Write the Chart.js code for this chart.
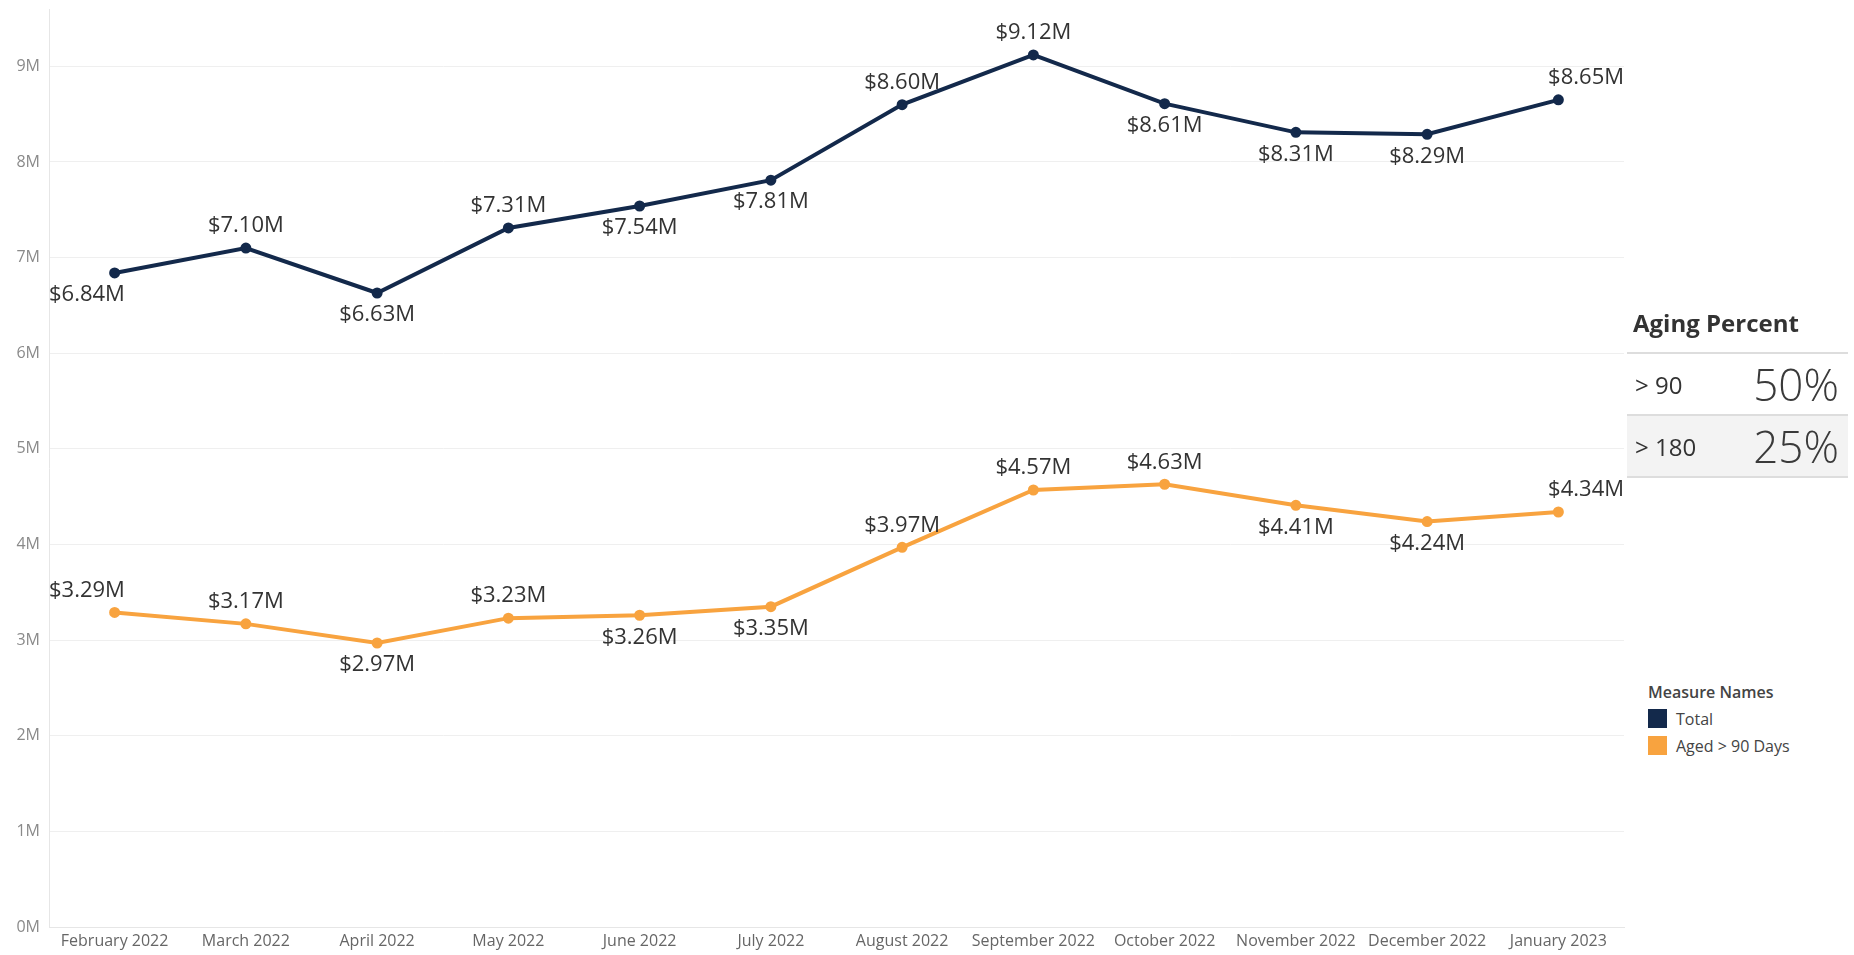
<!DOCTYPE html>
<html>
<head>
<meta charset="utf-8">
<script src="https://cdn.jsdelivr.net/npm/chart.js@4.4.1/dist/chart.umd.min.js"></script>
<style>
  body { margin: 0; background: #fff; font-family: "Open Sans", sans-serif; }
  #wrap { position: absolute; left: 0; top: 0; width: 1640px; height: 955px; }
  #panel { position: absolute; left: 1627px; top: 300px; width: 221px; color: #333; }
  #panel .title { font-size: 24px; font-weight: 700; padding-left: 6px; height: 52px; line-height: 46px; border-bottom: 2px solid #ddd; }
  #panel .row { height: 60px; display: flex; justify-content: space-between; align-items: center; padding: 0 9px 0 8px; border-bottom: 2px solid #ddd; }
  #panel .row.alt { background: #f3f3f3; }
  #panel .k { font-size: 24px; }
  #panel .v { font-size: 44px; font-weight: 300; color: #3a3a3a; }
  #legend { position: absolute; left: 1648px; top: 681px; font-size: 16px; color: #444; }
  #legend .hd { font-weight: 600; margin-bottom: 2px; }
  #legend .it { display: flex; align-items: center; height: 27px; }
  #legend .sw { width: 19px; height: 19px; margin-right: 9px; }
</style>
</head>
<body>
<div id="wrap"><canvas id="agingChart"></canvas></div>

<div id="panel">
  <div class="title">Aging Percent</div>
  <div class="row"><span class="k">&gt; 90</span><span class="v">50%</span></div>
  <div class="row alt"><span class="k">&gt; 180</span><span class="v">25%</span></div>
</div>

<div id="legend">
  <div class="hd">Measure Names</div>
  <div class="it"><span class="sw" style="background:#13294b"></span>Total</div>
  <div class="it"><span class="sw" style="background:#f8a33f"></span>Aged &gt; 90 Days</div>
</div>

<script>
const months = ['February 2022', 'March 2022', 'April 2022', 'May 2022', 'June 2022', 'July 2022',
  'August 2022', 'September 2022', 'October 2022', 'November 2022', 'December 2022', 'January 2023'];

// values in millions
const totalValues = [6.84, 7.10, 6.63, 7.31, 7.54, 7.81, 8.60, 9.12, 8.61, 8.31, 8.29, 8.65];
const agedValues = [3.29, 3.17, 2.97, 3.23, 3.26, 3.35, 3.97, 4.57, 4.63, 4.41, 4.24, 4.34];

// where each mark label sits: 'a' above the point, 'b' below
const totalLabelPos = ['b', 'a', 'b', 'a', 'b', 'b', 'a', 'a', 'b', 'b', 'b', 'a'];
const agedLabelPos = ['a', 'a', 'b', 'a', 'b', 'b', 'a', 'a', 'a', 'b', 'b', 'a'];

// draws the $x.xxM labels next to every point
const markLabels = {
  id: 'markLabels',
  afterDatasetsDraw(chart) {
    const ctx = chart.ctx;
    const area = chart.chartArea;
    ctx.save();
    ctx.font = '22px "Open Sans"';
    ctx.fillStyle = '#333';
    ctx.textAlign = 'center';
    ctx.textBaseline = 'middle';
    chart.data.datasets.forEach((ds, i) => {
      const meta = chart.getDatasetMeta(i);
      const last = meta.data.length - 1;
      meta.data.forEach((pt, j) => {
        const txt = '$' + ds.data[j].toFixed(2) + 'M';
        const w = ctx.measureText(txt).width;
        let x = pt.x;
        // edge labels hug the plot borders like in tableau
        if (j === 0) x = area.left + w / 2;
        if (j === last) x = area.right - w / 2;
        const y = ds.labelPos[j] === 'a' ? pt.y - 22 : pt.y + 22;
        ctx.fillText(txt, x, y);
      });
    });
    ctx.restore();
  }
};

const chartData = {
  labels: months,
  datasets: [
    {
      label: 'Total',
      data: totalValues,
      labelPos: totalLabelPos,
      borderColor: '#13294b',
      backgroundColor: '#13294b',
      borderWidth: 4,
      pointRadius: 3.5,
      pointHoverRadius: 5
    },
    {
      label: 'Aged > 90 Days',
      data: agedValues,
      labelPos: agedLabelPos,
      borderColor: '#f8a33f',
      backgroundColor: '#f8a33f',
      borderWidth: 4,
      pointRadius: 3.5,
      pointHoverRadius: 5
    }
  ]
};

const chartConfig = {
  type: 'line',
  data: chartData,
  plugins: [markLabels],
  options: {
    responsive: true,
    maintainAspectRatio: false,
    animation: false,
    layout: { padding: { top: 5, right: 16, left: 0, bottom: 0 } },
    plugins: {
      legend: { display: false },
      tooltip: { enabled: false }
    },
    scales: {
      x: {
        offset: true,
        grid: { display: false, drawTicks: false },
        border: { color: '#e6e6e6' },
        ticks: {
          color: '#666',
          font: { family: 'Open Sans', size: 16 },
          padding: 5,
          maxRotation: 0,
          autoSkip: false
        },
        afterFit: scale => {
          scale.height = 28;
          scale.paddingLeft = 0;
          scale.paddingRight = 0;
        }
      },
      y: {
        min: 0,
        max: 9.6,
        grid: { color: '#efefef', drawTicks: false },
        border: { color: '#e6e6e6' },
        ticks: {
          stepSize: 1,
          color: '#8a8a8a',
          font: { family: 'Open Sans', size: 16 },
          padding: 9,
          callback: v => v + 'M'
        },
        afterBuildTicks: scale => {
          scale.ticks = scale.ticks.filter(t => Number.isInteger(t.value));
        },
        afterFit: scale => {
          scale.width = 49;
          scale.paddingTop = 0;
          scale.paddingBottom = 0;
        }
      }
    }
  }
};

const ctx = document.getElementById('agingChart').getContext('2d');
new Chart(ctx, chartConfig);
</script>
</body>
</html>
